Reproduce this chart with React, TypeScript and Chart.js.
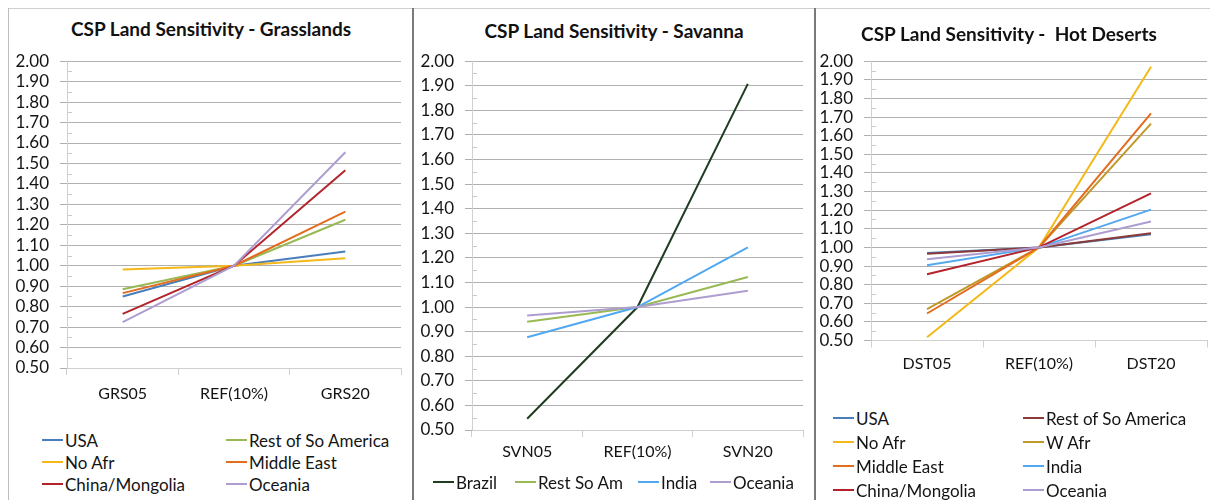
import React, { useEffect, useRef } from "react";
import { Chart, registerables } from "chart.js";
Chart.register(...registerables);

// ---------- data ----------
const grsCategories = ["GRS05", "REF(10%)", "GRS20"];
const grsUSA = [0.85, 1.0, 1.07];
const grsRestSoAmerica = [0.885, 1.0, 1.225];
const grsNoAfr = [0.982, 1.0, 1.036];
const grsMiddleEast = [0.866, 1.0, 1.265];
const grsChinaMongolia = [0.765, 1.0, 1.467];
const grsOceania = [0.724, 1.0, 1.555];

const svnCategories = ["SVN05", "REF(10%)", "SVN20"];
const svnBrazil = [0.546, 1.0, 1.908];
const svnRestSoAm = [0.94, 1.0, 1.122];
const svnIndia = [0.877, 1.0, 1.243];
const svnOceania = [0.966, 1.0, 1.066];

const dstCategories = ["DST05", "REF(10%)", "DST20"];
const dstUSA = [0.97, 1.0, 1.07];
const dstRestSoAmerica = [0.966, 1.0, 1.076];
const dstNoAfr = [0.517, 1.0, 1.97];
const dstWAfr = [0.668, 1.0, 1.665];
const dstMiddleEast = [0.645, 1.0, 1.72];
const dstIndia = [0.904, 1.0, 1.203];
const dstChinaMongolia = [0.856, 1.0, 1.29];
const dstOceania = [0.936, 1.0, 1.139];

const yMin = 0.5;
const yMax = 2.0;
const yStep = 0.1;
const yMinorValues = [0.55, 0.65, 0.75, 0.85, 0.95, 1.05, 1.15, 1.25, 1.35, 1.45, 1.55, 1.65, 1.75, 1.85, 1.95];

const titles = [
  "CSP Land Sensitivity - Grasslands",
  "CSP Land Sensitivity - Savanna",
  "CSP Land Sensitivity -  Hot Deserts",
];

// ---------- styles ----------
const FONT = "Lato, 'Open Sans', 'DejaVu Sans', sans-serif";
const TEXT = "#141414";
const C = {
  usa: "#4A7EBB",
  restGreen: "#98B954",
  noAfr: "#F4B918",
  middleEast: "#E36C1F",
  china: "#B3232B",
  oceania: "#AE9DD0",
  brazil: "#213D21",
  india: "#52A8F0",
  wAfr: "#C0992A",
  restBrown: "#8B3A3A",
};

type Series = { label: string; data: number[]; color: string };

const grsSeries: Series[] = [
  { label: "USA", data: grsUSA, color: C.usa },
  { label: "Rest of So America", data: grsRestSoAmerica, color: C.restGreen },
  { label: "No Afr", data: grsNoAfr, color: C.noAfr },
  { label: "Middle East", data: grsMiddleEast, color: C.middleEast },
  { label: "China/Mongolia", data: grsChinaMongolia, color: C.china },
  { label: "Oceania", data: grsOceania, color: C.oceania },
];
const svnSeries: Series[] = [
  { label: "Brazil", data: svnBrazil, color: C.brazil },
  { label: "Rest So Am", data: svnRestSoAm, color: C.restGreen },
  { label: "India", data: svnIndia, color: C.india },
  { label: "Oceania", data: svnOceania, color: C.oceania },
];
const dstSeries: Series[] = [
  { label: "USA", data: dstUSA, color: C.usa },
  { label: "Rest of So America", data: dstRestSoAmerica, color: C.restBrown },
  { label: "No Afr", data: dstNoAfr, color: C.noAfr },
  { label: "W Afr", data: dstWAfr, color: C.wAfr },
  { label: "Middle East", data: dstMiddleEast, color: C.middleEast },
  { label: "India", data: dstIndia, color: C.india },
  { label: "China/Mongolia", data: dstChinaMongolia, color: C.china },
  { label: "Oceania", data: dstOceania, color: C.oceania },
];

type Geo = {
  canvas: { left: number; top: number; width: number; height: number };
  plot: { l: number; t: number; r: number; b: number };
  xPad: number;
  title: { cx: number; top: number };
  legendCols: number[];
  legendRows: number[];
};

const geos: Geo[] = [
  {
    canvas: { left: 8, top: 40, width: 402, height: 385 },
    plot: { l: 67, t: 58.5, r: 401, b: 368 },
    xPad: 9,
    title: { cx: 211, top: 17 },
    legendCols: [42, 226],
    legendRows: [440, 462, 484],
  },
  {
    canvas: { left: 415, top: 40, width: 397, height: 440 },
    plot: { l: 472, t: 60.5, r: 803, b: 430 },
    xPad: 5,
    title: { cx: 614, top: 19 },
    legendCols: [433, 515, 638, 710],
    legendRows: [482],
  },
  {
    canvas: { left: 817, top: 40, width: 395, height: 360 },
    plot: { l: 871, t: 60, r: 1207, b: 340.5 },
    xPad: 7,
    title: { cx: 1009, top: 22 },
    legendCols: [833, 1023],
    legendRows: [418, 442, 466, 490],
  },
];

const minorTicks = {
  id: "minorTicks",
  afterDraw(chart: any) {
    const y = chart.scales.y;
    const ctx = chart.ctx;
    const left = chart.chartArea.left;
    ctx.save();
    ctx.strokeStyle = "#C8C8C8";
    ctx.lineWidth = 1;
    for (const v of yMinorValues) {
      const py = Math.round(y.getPixelForValue(v)) + 0.5;
      ctx.beginPath();
      ctx.moveTo(left + 1, py);
      ctx.lineTo(left + 5, py);
      ctx.stroke();
    }
    ctx.restore();
  },
};

function Panel({ geo, labels, series, title }: { geo: Geo; labels: string[]; series: Series[]; title: string }) {
  const ref = useRef<HTMLCanvasElement | null>(null);
  useEffect(() => {
    const { canvas: cv, plot } = geo;
    const chart = new Chart(ref.current as HTMLCanvasElement, {
      type: "line",
      data: {
        labels,
        datasets: series.map((s, i) => ({
          label: s.label,
          data: s.data,
          borderColor: s.color,
          backgroundColor: s.color,
          borderWidth: 2,
          pointRadius: 0,
          tension: 0,
          order: series.length - i,
        })),
      },
      options: {
        animation: false,
        responsive: false,
        layout: { padding: { left: 0, top: plot.t - cv.top, right: cv.left + cv.width - plot.r, bottom: 0 } },
        plugins: { legend: { display: false }, title: { display: false }, tooltip: { enabled: false } },
        scales: {
          x: {
            type: "category",
            offset: true,
            grid: { offset: true, drawOnChartArea: false, drawTicks: true, tickLength: 7, color: "#D0D0D0" },
            border: { color: "#D0D0D0" },
            ticks: { font: { family: FONT, size: 16 }, color: TEXT, padding: geo.xPad, maxRotation: 0 },
            afterFit: (s: any) => {
              s.height = cv.top + cv.height - plot.b;
            },
          },
          y: {
            min: yMin,
            max: yMax,
            ticks: {
              stepSize: yStep,
              autoSkip: false,
              callback: (v: any) => Number(v).toFixed(2),
              font: { family: FONT, size: 17 },
              color: TEXT,
              padding: 11,
            },
            grid: { color: "#B0B0B0", tickLength: 7 },
            border: { color: "#D0D0D0" },
            afterFit: (s: any) => {
              s.width = plot.l - cv.left;
            },
          },
        },
      } as any,
      plugins: [minorTicks],
    });
    return () => chart.destroy();
  }, []);

  const cols = geo.legendCols.length;
  return (
    <>
      <div
        style={{
          position: "absolute",
          left: geo.title.cx - 200,
          width: 400,
          top: geo.title.top,
          textAlign: "center",
          font: `bold 19px ${FONT}`,
          color: "#111",
          whiteSpace: "pre",
        }}
      >
        {title}
      </div>
      <canvas
        ref={ref}
        width={geo.canvas.width}
        height={geo.canvas.height}
        style={{
          position: "absolute",
          left: geo.canvas.left,
          top: geo.canvas.top,
          width: geo.canvas.width,
          height: geo.canvas.height,
        }}
      />
      {series.map((s, i) => {
        const x = geo.legendCols[i % cols];
        const y = geo.legendRows[Math.floor(i / cols)];
        return (
          <div
            key={s.label + i}
            style={{
              position: "absolute",
              left: x,
              top: y - 11,
              height: 22,
              display: "flex",
              alignItems: "center",
              font: `17px ${FONT}`,
              color: TEXT,
              whiteSpace: "nowrap",
            }}
          >
            <span style={{ display: "inline-block", width: 21, height: 2, background: s.color, marginRight: 2 }} />
            <span>{s.label}</span>
          </div>
        );
      })}
    </>
  );
}

export default function App() {
  return (
    <div style={{ position: "absolute", left: 0, top: 0, width: 1214, height: 500, background: "#fff", overflow: "hidden" }}>
      <div style={{ position: "absolute", left: 8, top: 8, width: 1202, height: 1, background: "#CFCFCF" }} />
      <div style={{ position: "absolute", left: 8, top: 8, width: 1, height: 492, background: "#BDBDBD" }} />
      <div style={{ position: "absolute", left: 412, top: 8, width: 2, height: 492, background: "#7A7A7A" }} />
      <div style={{ position: "absolute", left: 814, top: 8, width: 2, height: 492, background: "#7A7A7A" }} />
      <Panel geo={geos[0]} labels={grsCategories} series={grsSeries} title={titles[0]} />
      <Panel geo={geos[1]} labels={svnCategories} series={svnSeries} title={titles[1]} />
      <Panel geo={geos[2]} labels={dstCategories} series={dstSeries} title={titles[2]} />
    </div>
  );
}
